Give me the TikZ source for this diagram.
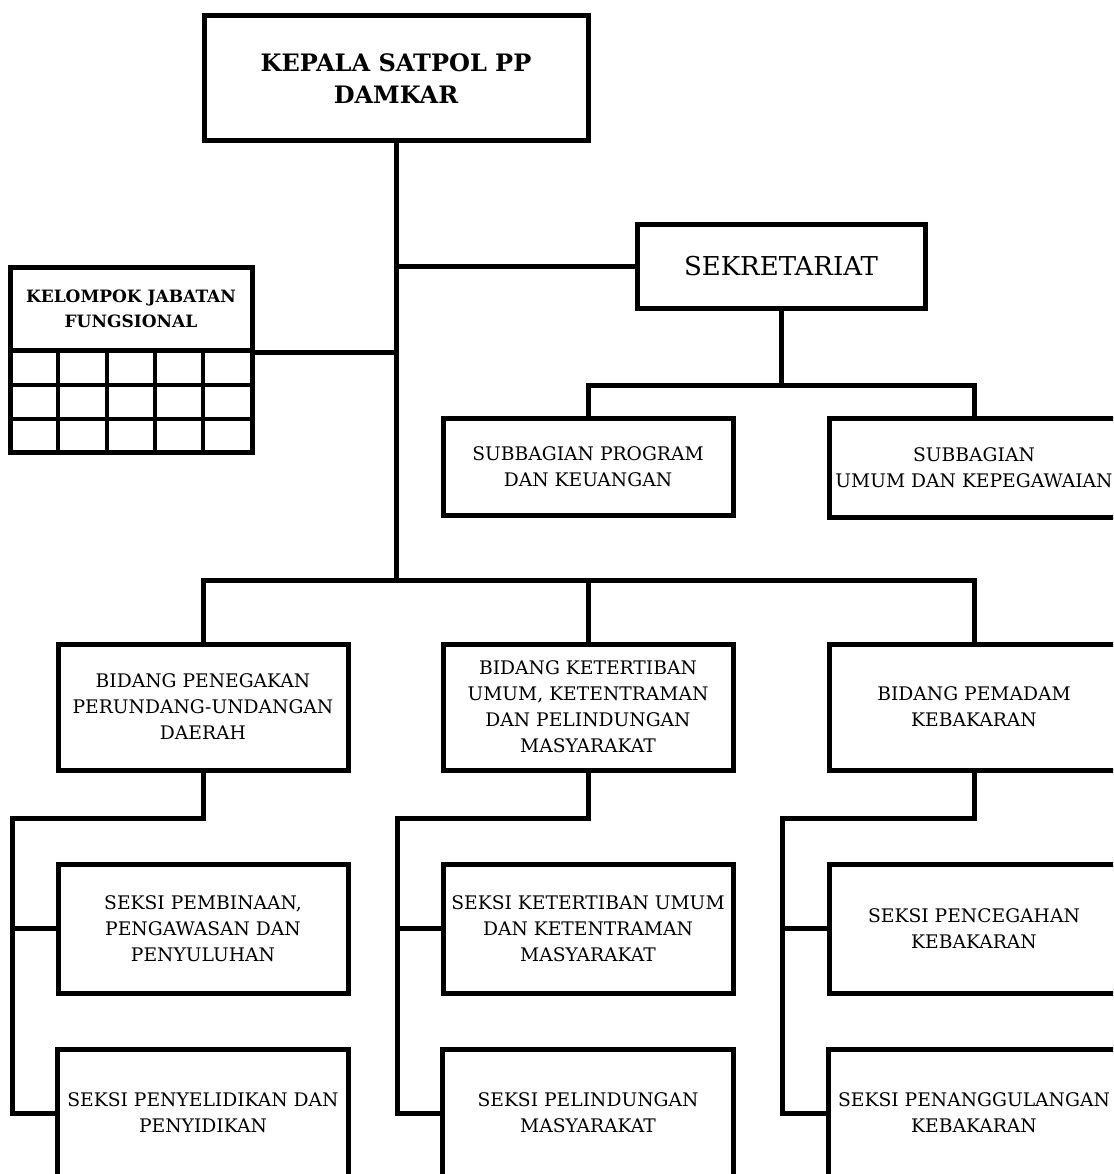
\documentclass[tikz,border=0pt]{standalone}
\usepackage{fontspec}
\setmainfont{DejaVu Serif}
\newcommand\regf{\fontsize{18.7}{26}\selectfont}
\newcommand\topf{\fontsize{24}{32}\selectfont\bfseries}
\newcommand\sekf{\fontsize{26}{32}\selectfont}
\newcommand\kjff{\fontsize{17}{25}\selectfont\bfseries}
\begin{document}
\begin{tikzpicture}[x=1pt,y=-1pt,
  box/.style={draw, line width=5pt, align=center, inner sep=0pt, font=\regf, minimum width=290pt},
  openbox/.style={align=center, inner sep=0pt, font=\regf, minimum width=290pt, minimum height=126pt},
  boxline/.style={line width=5pt},
  conn/.style={line width=5pt},
  gridline/.style={line width=3.3pt}]
\useasboundingbox (0,0) rectangle (1113,1174);
\clip (0,0) rectangle (1113,1174);
\fill[white] (0,0) rectangle (1113,1174);

% boxes
\node[box, minimum width=384pt, minimum height=125pt, font=\topf] (kepala) at (396,78.5) {KEPALA SATPOL PP\\DAMKAR};
\node[box, minimum width=288pt, minimum height=83pt, font=\sekf] (sek) at (781,266.5) {SEKRETARIAT};
\node[box, minimum height=97pt] (sub1) at (588,466.5) {SUBBAGIAN PROGRAM\\DAN KEUANGAN};
\node[box, minimum height=99pt] (sub2) at (974,467.5) {SUBBAGIAN\\UMUM DAN KEPEGAWAIAN};

\node[box, minimum height=126pt] (bid1) at (203,707) {BIDANG PENEGAKAN\\PERUNDANG-UNDANGAN\\DAERAH};
\node[box, minimum height=126pt] (bid2) at (588,707) {BIDANG KETERTIBAN\\UMUM, KETENTRAMAN\\DAN PELINDUNGAN\\MASYARAKAT};
\node[box, minimum height=126pt] (bid3) at (974,707) {BIDANG PEMADAM\\KEBAKARAN};

\node[box, minimum height=129pt] (s11) at (203,928.5) {SEKSI PEMBINAAN,\\PENGAWASAN DAN\\PENYULUHAN};
\node[box, minimum height=129pt] (s21) at (588,928.5) {SEKSI KETERTIBAN UMUM\\DAN KETENTRAMAN\\MASYARAKAT};
\node[box, minimum height=129pt] (s31) at (974,928.5) {SEKSI PENCEGAHAN\\KEBAKARAN};

\node[openbox] (s12) at (203,1113) {SEKSI PENYELIDIKAN DAN\\PENYIDIKAN};
\node[openbox] (s22) at (588,1113) {SEKSI PELINDUNGAN\\MASYARAKAT};
\node[openbox] (s32) at (974,1113) {SEKSI PENANGGULANGAN\\KEBAKARAN};
\foreach \n in {s12,s22,s32}{
  \draw[boxline] (\n.south west) -- (\n.north west) -- (\n.north east) -- (\n.south east);
}

% kelompok jabatan fungsional
\node[draw, line width=5pt, minimum width=242pt, minimum height=83pt, inner sep=0pt, align=center, font=\kjff] (kjf) at (131,308.5) {KELOMPOK JABATAN\\FUNGSIONAL};
\draw[gridline] (10,385) -- (252,385);
\draw[gridline] (10,419) -- (252,419);
\foreach \x in {58,107,155,203}{
  \draw[gridline] (\x,350) -- (\x,452);
}
\draw[boxline] (10,350) rectangle (252,452);

% connectors
\coordinate (busY) at (0,580);
\coordinate (subY) at (0,385);
\draw[conn] (kepala.south) -- (kepala.south |- busY);
\draw[conn] (sek.west) -- (sek.west -| kepala.south);
\draw[conn] (kjf.south east) -- (kjf.south east -| kepala.south);
\draw[conn] (sek.south) -- (sek.south |- subY);
\draw[conn] (sub1.north) -- (sub1.north |- subY) -- (sub2.north |- subY) -- (sub2.north);
\draw[conn] (bid1.north) -- (bid1.north |- busY) -- (bid3.north |- busY) -- (bid3.north);
\draw[conn] (bid2.north) -- (bid2.north |- busY);

\coordinate (r1) at (12,818);
\coordinate (r2) at (397,818);
\coordinate (r3) at (782,818);
\draw[conn] (bid1.south) |- (r1) -- (r1 |- s12.west) -- (s12.west);
\draw[conn] (r1 |- s11.west) -- (s11.west);
\draw[conn] (bid2.south) |- (r2) -- (r2 |- s22.west) -- (s22.west);
\draw[conn] (r2 |- s21.west) -- (s21.west);
\draw[conn] (bid3.south) |- (r3) -- (r3 |- s32.west) -- (s32.west);
\draw[conn] (r3 |- s31.west) -- (s31.west);
\end{tikzpicture}
\end{document}
